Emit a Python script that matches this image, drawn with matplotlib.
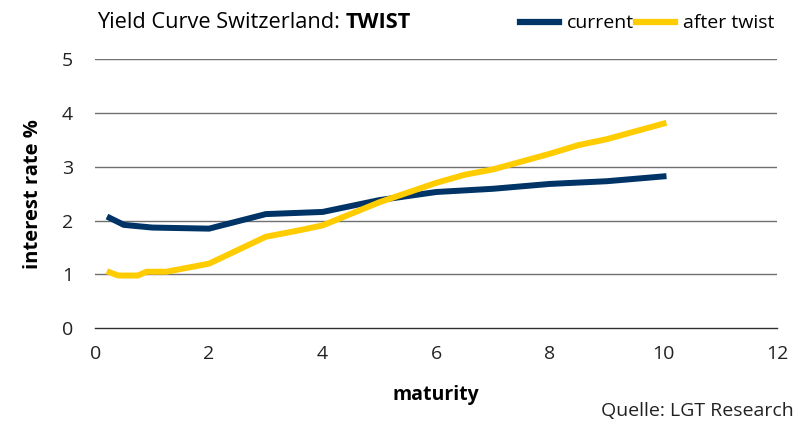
import matplotlib
matplotlib.use('Agg')
import matplotlib.pyplot as plt
from matplotlib.lines import Line2D

plt.rcParams['font.family'] = ['Open Sans', 'DejaVu Sans']

# current curve
mat_cur = [0.25, 0.5, 1, 1.5, 2, 3, 4, 5, 6, 7, 8, 9, 10]
rate_cur = [2.05, 1.92, 1.87, 1.86, 1.85, 2.12, 2.16, 2.38, 2.53, 2.59, 2.68, 2.73, 2.82]

# after twist
mat_tw = [0.25, 0.4, 0.75, 0.9, 1.25, 1.5, 2, 3, 3.5, 4, 5, 6, 6.5, 7, 8, 8.5, 9, 10]
rate_tw = [1.04, 0.98, 0.98, 1.05, 1.05, 1.1, 1.2, 1.7, 1.8, 1.91, 2.34, 2.7, 2.85, 2.95, 3.24, 3.4, 3.51, 3.8]

navy = '#003366'
gold = '#FFCC00'

fig = plt.figure(figsize=(8.02, 4.24), dpi=100)
ax = fig.add_axes([0.119, 0.2257, 0.85, 0.6353])

ax.plot(mat_cur, rate_cur, color=navy, lw=4.3, solid_joinstyle='miter', zorder=3)
ax.plot(mat_tw, rate_tw, color=gold, lw=4.3, solid_joinstyle='miter', zorder=3)

ax.set_xlim(0, 12)
ax.set_ylim(0, 5)
ax.set_xticks(range(0, 13, 2))
ax.set_yticks(range(0, 6))
for y in range(1, 6):
    ax.axhline(y, color='#707070', lw=1, zorder=1)
for s in ['top', 'right', 'left']:
    ax.spines[s].set_visible(False)
ax.spines['bottom'].set_color('#303030')
ax.spines['bottom'].set_linewidth(1)
ax.tick_params(length=0, labelsize=14, colors='#222222', pad=12)
ax.tick_params(axis='y', pad=16)

ax.set_xlabel('maturity', fontsize=14, fontweight='bold', labelpad=16)
ax.set_ylabel('interest rate %', fontsize=14.5, fontweight='bold', labelpad=14)

t1 = fig.text(0.121, 0.946, 'Yield Curve Switzerland:', fontsize=15.7, va='center', ha='left')
fig.canvas.draw()
bb = t1.get_window_extent()
fig.text(bb.x1 / fig.bbox.width + 0.007, 0.946, 'TWIST', fontsize=15.7, fontweight='bold', va='center', ha='left')

handles = [Line2D([], [], color=navy, lw=4.5), Line2D([], [], color=gold, lw=4.5)]
fig.legend(handles, ['current', 'after twist'], loc='center right', bbox_to_anchor=(0.975, 0.945),
           ncol=2, frameon=False, fontsize=14, handlelength=2.0, handletextpad=0.4,
           columnspacing=0.1, borderaxespad=0)

fig.text(0.99, 0.03, 'Quelle: LGT Research', fontsize=14, ha='right', va='center', color='#222222')

fig.savefig('out.png', dpi=100)
